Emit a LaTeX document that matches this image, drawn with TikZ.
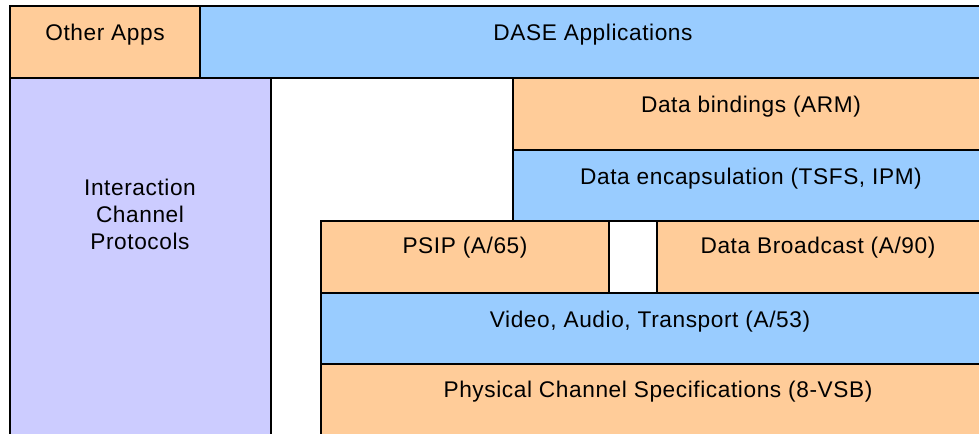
\documentclass[tikz,border=0pt]{standalone}
\usepackage{fontspec}
\setmainfont{Liberation Sans}[LetterSpace=2.6]
\definecolor{boxorange}{HTML}{FFCC99}
\definecolor{boxblue}{HTML}{99CCFF}
\definecolor{boxlav}{HTML}{CCCCFF}
\begin{document}
\begin{tikzpicture}[x=0.75pt,y=-0.75pt,
  box/.style={draw=black, line width=1.3pt, anchor=north west, inner sep=0pt, outer sep=0pt},
  lbl/.style={font=\fontsize{17}{20.25}\selectfont, align=center, inner sep=0pt, anchor=base}]
\useasboundingbox (0,0) rectangle (979,434);
\clip (0,0) rectangle (979,434);
\node[box, fill=boxlav, minimum width=261*0.75pt, minimum height=400*0.75pt] (ic) at (10,78) {};
\node[box, fill=boxorange, minimum width=190*0.75pt, minimum height=72*0.75pt] (other) at (10,6) {};
\node[box, fill=boxblue, minimum width=790*0.75pt, minimum height=72*0.75pt] (dase) at (200,6) {};
\node[box, fill=boxorange, minimum width=477*0.75pt, minimum height=72*0.75pt] (bind) at (513,78) {};
\node[box, fill=boxblue, minimum width=477*0.75pt, minimum height=71*0.75pt] (enc) at (513,150) {};
\node[box, fill=boxorange, minimum width=288*0.75pt, minimum height=72*0.75pt] (psip) at (321,221) {};
\node[box, fill=boxorange, minimum width=340*0.75pt, minimum height=72*0.75pt] (bcast) at (657,221) {};
\node[box, fill=boxblue, minimum width=670*0.75pt, minimum height=71*0.75pt] (video) at (321,293) {};
\node[box, fill=boxorange, minimum width=670*0.75pt, minimum height=100*0.75pt] (phys) at (321,364) {};

\node[lbl] (tother) at (105,41) {Other Apps};
\node[lbl] (tdase) at (593,41) {DASE Applications};
\node[lbl] (tbind) at (751,113) {Data bindings (ARM)};
\node[lbl] (tenc) at (751,185) {Data encapsulation (TSFS, IPM)};
\node[lbl] (tpsip) at (465,254) {PSIP (A/65)};
\node[lbl] (tbcast) at (818,254) {Data Broadcast (A/90)};
\node[lbl] (tvideo) at (650,328) {Video, Audio, Transport (A/53)};
\node[lbl] (tphys) at (658,398) {Physical Channel Specifications (8-VSB)};
\node[lbl, anchor=center] (tic) at (140,214) {Interaction\\Channel\\Protocols};
\end{tikzpicture}
\end{document}
